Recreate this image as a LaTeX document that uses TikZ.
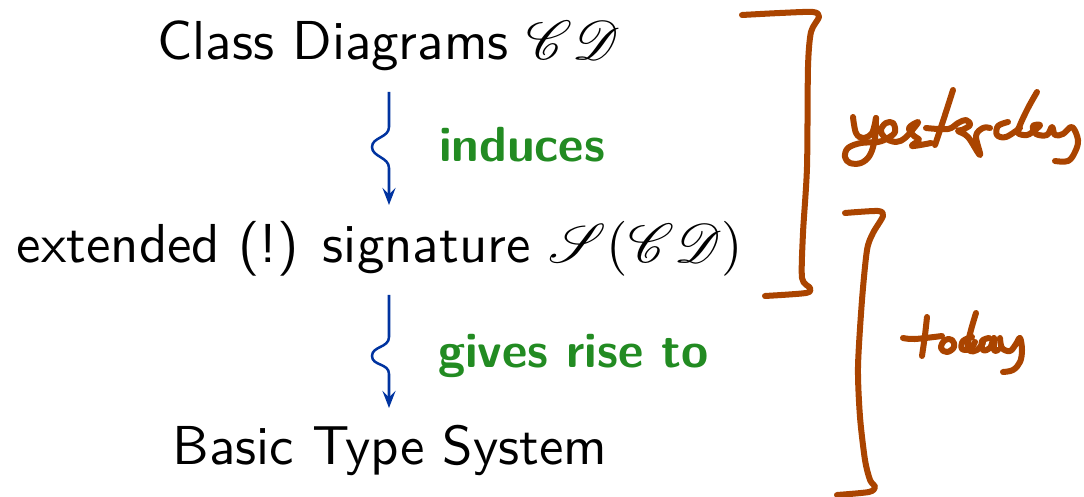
\documentclass[tikz,border=0pt]{standalone}
\usepackage{mathrsfs}
\usetikzlibrary{arrows.meta,calc}
\definecolor{flowblue}{RGB}{0,51,160}
\definecolor{notegreen}{RGB}{34,139,34}
\definecolor{inkbrown}{RGB}{170,68,0}
\tikzset{
  term/.style={font=\fontsize{10.95}{13}\selectfont\sffamily, inner sep=0pt, anchor=base},
  verb/.style={font=\fontsize{9.85}{12}\selectfont\sffamily\bfseries, text=notegreen, inner sep=0pt, anchor=base west},
  flow/.style={draw=flowblue, line width=0.5pt, -{Stealth[length=3.4pt,width=2.6pt,inset=1.3pt]}},
  ink/.style={draw=inkbrown, line width=1.2pt, line cap=round, line join=round},
  pen/.style={draw=inkbrown, line width=1.2pt, line cap=round, line join=round},
}
\begin{document}
\begin{tikzpicture}[x=0.1996pt,y=-0.1996pt]
\useasboundingbox (0,0) rectangle (1084,497);

% the three stages
\node[term] (cd)  at (389,60)  {Class Diagrams $\mathscr{C}\mathscr{D}$};
\node[term] (sig) at (380,263) {extended (!) signature $\mathscr{S}(\mathscr{C}\mathscr{D})$};
\node[term] (bts) at (390,465) {Basic Type System};

% squiggly connectors
\draw[flow] ($(cd.base)+(0,32)$) -- ++(0,35)
  .. controls +(0,11) and +(0,-10) .. ++(-17,20)
  .. controls +(0,10) and +(0,-11) .. ++(17,21)
  -- ($(cd.base |- sig.base)+(0,-58)$);
\draw[flow] ($(cd.base |- sig.base)+(0,32)$) -- ++(0,42)
  .. controls +(0,11) and +(0,-10) .. ++(-17,19)
  .. controls +(0,10) and +(0,-11) .. ++(17,18)
  -- ($(cd.base |- bts.base)+(0,-57)$);

\node[verb] (ind) at (438,162) {induces};
\node[verb] (gr)  at (437,368) {gives rise to};

% hand-drawn brackets
\draw[ink] plot[smooth,tension=0.45] coordinates {(742,15) (780,13) (813,12) (819,17) (811,32) (808,67) (807,167) (803,233) (802,278) (810,288) (806,293) (765,296)};
\draw[ink] plot[smooth,tension=0.45] coordinates {(845,213) (878,211) (883,216) (873,233) (867,250) (862,300) (858,367) (860,417) (865,460) (870,480) (875,487) (869,492) (837,495)};

% "yesterday"
\draw[pen] plot[smooth,tension=0.6] coordinates {(853,117) (856,133) (863,138) (872,133) (876,118)};
\draw[pen] plot[smooth,tension=0.6] coordinates {(876,118) (875,138) (870,155) (861,163) (850,163) (845,157) (848,148) (861,143) (878,142) (888,138) (895,132) (893,123) (886,123) (881,130) (885,138) (896,142) (905,138) (914,128) (918,122) (909,128) (914,136) (919,140) (912,146) (931,143)};
\draw[pen] plot[smooth,tension=0.6] coordinates {(953,90) (945,115) (935,145)};
\draw[pen] plot[smooth,tension=0.6] coordinates {(926,128) (948,129) (958,123) (966,120) (970,125) (962,130) (958,131) (968,137) (980,155) (976,136) (983,128) (990,128)};
\draw[pen] plot[smooth,tension=0.6] coordinates {(1008,122) (998,126) (997,135) (1006,137) (1020,128)};
\draw[pen] plot[smooth,tension=0.6] coordinates {(1037,92) (1028,108) (1020,125) (1018,133) (1027,135) (1035,130) (1040,125) (1033,126) (1036,134) (1047,135) (1052,127) (1055,135) (1063,134) (1072,127) (1078,140) (1075,152) (1068,161) (1055,161)};

% "today"
\draw[pen] plot[smooth,tension=0.6] coordinates {(927,317) (925,335) (922,356)};
\draw[pen] plot[smooth,tension=0.6] coordinates {(903,338) (915,339) (942,336)};
\draw[pen] plot[smooth cycle,tension=0.7] coordinates {(945,340) (941,348) (947,352) (954,347) (952,340)};
\draw[pen] plot[smooth,tension=0.6] coordinates {(972,337) (963,341) (962,349) (970,349) (975,342)};
\draw[pen] plot[smooth,tension=0.6] coordinates {(976,313) (971,330) (968,344) (970,351) (977,350) (983,343)};
\draw[pen] plot[smooth,tension=0.6] coordinates {(989,338) (982,341) (983,350) (990,348) (994,338) (994,350) (998,350)};
\draw[pen] plot[smooth,tension=0.6] coordinates {(1000,338) (1002,348) (1010,351) (1016,344) (1020,338) (1022,350) (1020,362) (1013,370) (1003,372)};
\end{tikzpicture}
\end{document}
